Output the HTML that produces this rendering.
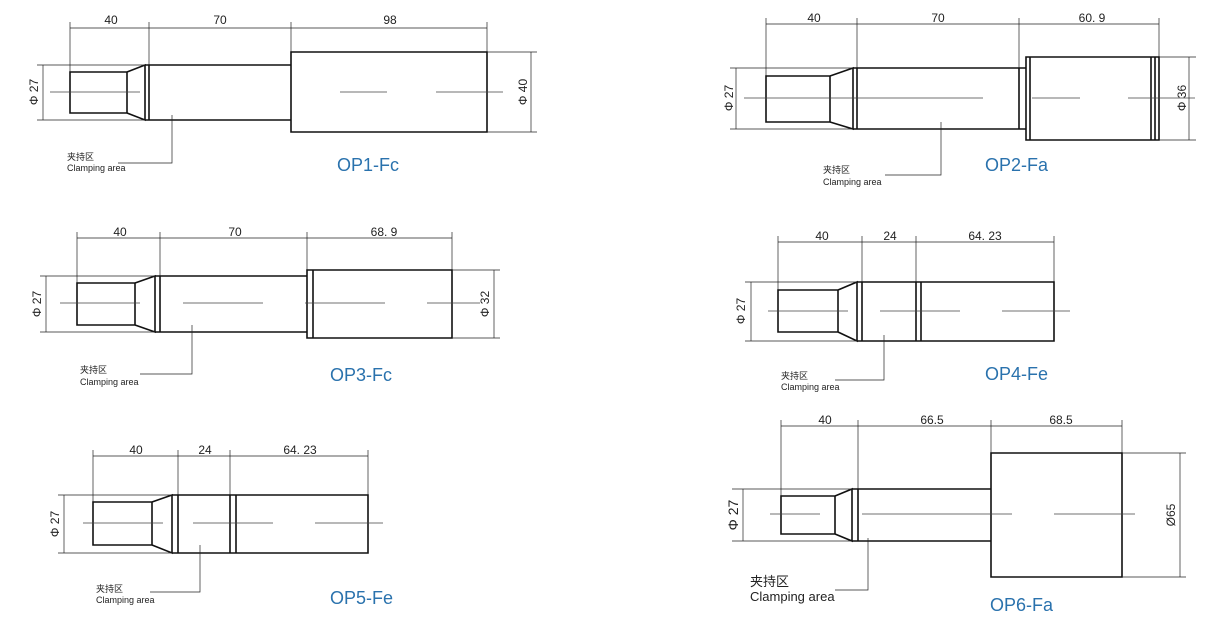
<!DOCTYPE html>
<html><head><meta charset="utf-8"><style>
html,body{margin:0;padding:0;background:#fff;}
svg{display:block;}
.o{stroke:#111;stroke-width:1.6;fill:none;}
.t{stroke:#222;stroke-width:0.7;fill:none;}
.c{stroke:#444;stroke-width:0.7;fill:none;}
text{font-family:"Liberation Sans","Noto Sans CJK SC",sans-serif;fill:#222;}
.d{font-size:12px;text-anchor:middle;}
.s{font-size:9px;}
.L{font-size:18px;fill:#2a72ad;}
</style></head><body>
<svg width="1225" height="626" viewBox="0 0 1225 626" xmlns="http://www.w3.org/2000/svg">
<!-- OP1 -->
<g>
<path class="t" d="M70 22V72 M149 22V65 M291 22V52 M487 22V52 M70 28H487 M149 26V30 M291 26V30"/>
<text class="d" x="111" y="24">40</text><text class="d" x="220" y="24">70</text><text class="d" x="390" y="24">98</text>
<path class="o" d="M70 72H127V113H70Z M127 72L145 65V120L127 113 M145 65H149V120H145 M149 65H291 M149 120H291 M291 52H487V132H291Z"/>
<path class="c" d="M50 92H140 M340 92H387 M436 92H503"/>
<path class="t" d="M37 65H145 M37 120H145 M43 65V120 M487 52H537 M487 132H537 M531 52V132"/>
<text class="d" transform="translate(38,92) rotate(-90)">Φ 27</text>
<text class="d" transform="translate(527,92) rotate(-90)">Φ 40</text>
<path class="t" d="M172 115V163H118"/>
<text class="s" x="67" y="160">夹持区</text><text class="s" x="67" y="171">Clamping area</text>
<text class="L" x="337" y="171">OP1-Fc</text>
</g>
<!-- OP2 -->
<g>
<path class="t" d="M766 18V76 M857 18V68 M1019 18V68 M1159 18V57 M766 24H1159"/>
<text class="d" x="814" y="22">40</text><text class="d" x="938" y="22">70</text><text class="d" x="1092" y="22">60. 9</text>
<path class="o" d="M766 76H830V122H766Z M830 76L853 68V129L830 122 M853 68H857V129H853 M857 68H1019 M857 129H1019 M1019 68H1026 M1019 129H1026 M1019 68V129 M1026 57H1159V140H1026Z M1030 57V140 M1151 57V140 M1155 57V140"/>
<path class="c" d="M744 98H983 M1032 98H1080 M1128 98H1195"/>
<path class="t" d="M730 68H853 M730 129H853 M736 68V129 M1159 57H1196 M1159 140H1196 M1189 57V140"/>
<text class="d" transform="translate(733,98) rotate(-90)">Φ 27</text>
<text class="d" transform="translate(1186,98) rotate(-90)">Φ 36</text>
<path class="t" d="M941 122V175H885"/>
<text class="s" x="823" y="173">夹持区</text><text class="s" x="823" y="185">Clamping area</text>
<text class="L" x="985" y="171">OP2-Fa</text>
</g>
<!-- OP3 -->
<g>
<path class="t" d="M77 232V283 M160 232V276 M307 232V270 M452 232V270 M77 238H452"/>
<text class="d" x="120" y="236">40</text><text class="d" x="235" y="236">70</text><text class="d" x="384" y="236">68. 9</text>
<path class="o" d="M77 283H135V325H77Z M135 283L155 276V332L135 325 M155 276H160V332H155 M160 276H307 M160 332H307 M307 270H452V338H307Z M313 270V338"/>
<path class="c" d="M60 303H140 M183 303H263 M305 303H385 M427 303H480"/>
<path class="t" d="M40 276H155 M40 332H155 M46 276V332 M452 270H500 M452 338H500 M494 270V338"/>
<text class="d" transform="translate(41,304) rotate(-90)">Φ 27</text>
<text class="d" transform="translate(489,304) rotate(-90)">Φ 32</text>
<path class="t" d="M192 325V374H140"/>
<text class="s" x="80" y="373">夹持区</text><text class="s" x="80" y="385">Clamping area</text>
<text class="L" x="330" y="381">OP3-Fc</text>
</g>
<!-- OP4 -->
<g>
<path class="t" d="M778 236V290 M862 236V282 M916 236V282 M1054 236V282 M778 242H1054"/>
<text class="d" x="822" y="240">40</text><text class="d" x="890" y="240">24</text><text class="d" x="985" y="240">64. 23</text>
<path class="o" d="M778 290H838V332H778Z M838 290L857 282V341L838 332 M857 282H862V341H857 M862 282H1054V341H862 M916 282V341 M921 282V341 M1054 282V341"/>
<path class="c" d="M768 311H848 M880 311H960 M1002 311H1070"/>
<path class="t" d="M745 282H857 M745 341H857 M751 282V341"/>
<text class="d" transform="translate(745,311) rotate(-90)">Φ 27</text>
<path class="t" d="M884 335V380H835"/>
<text class="s" x="781" y="379">夹持区</text><text class="s" x="781" y="390">Clamping area</text>
<text class="L" x="985" y="380">OP4-Fe</text>
</g>
<!-- OP5 -->
<g>
<path class="t" d="M93 450V502 M178 450V495 M230 450V495 M368 450V495 M93 456H368"/>
<text class="d" x="136" y="454">40</text><text class="d" x="205" y="454">24</text><text class="d" x="300" y="454">64. 23</text>
<path class="o" d="M93 502H152V545H93Z M152 502L172 495V553L152 545 M172 495H368V553H172 M178 495V553 M230 495V553 M236 495V553"/>
<path class="c" d="M83 523H163 M193 523H273 M315 523H383"/>
<path class="t" d="M58 495H172 M58 553H172 M64 495V553"/>
<text class="d" transform="translate(59,524) rotate(-90)">Φ 27</text>
<path class="t" d="M200 545V592H150"/>
<text class="s" x="96" y="592">夹持区</text><text class="s" x="96" y="603">Clamping area</text>
<text class="L" x="330" y="604">OP5-Fe</text>
</g>
<!-- OP6 -->
<g>
<path class="t" d="M781 420V496 M858 420V489 M991 420V453 M1122 420V453 M781 426H1122"/>
<text class="d" x="825" y="424">40</text><text class="d" x="932" y="424">66.5</text><text class="d" x="1061" y="424">68.5</text>
<path class="o" d="M781 496H835V534H781Z M835 496L852 489V541L835 534 M852 489H858V541H852 M858 489H991 M858 541H991 M991 453H1122V577H991Z"/>
<path class="c" d="M770 514H820 M862 514H1012 M1054 514H1135"/>
<path class="t" d="M732 489H852 M732 541H852 M743 489V541 M1122 453H1186 M1122 577H1186 M1180 453V577"/>
<text class="d" style="font-size:14px" transform="translate(738,515) rotate(-90)">Φ 27</text>
<text class="d" transform="translate(1175,515) rotate(-90)">Ø65</text>
<path class="t" d="M868 538V590H835"/>
<text x="750" y="586" style="font-size:13px">夹持区</text><text x="750" y="601" style="font-size:13px">Clamping area</text>
<text class="L" x="990" y="611">OP6-Fa</text>
</g>
</svg>
</body></html>
